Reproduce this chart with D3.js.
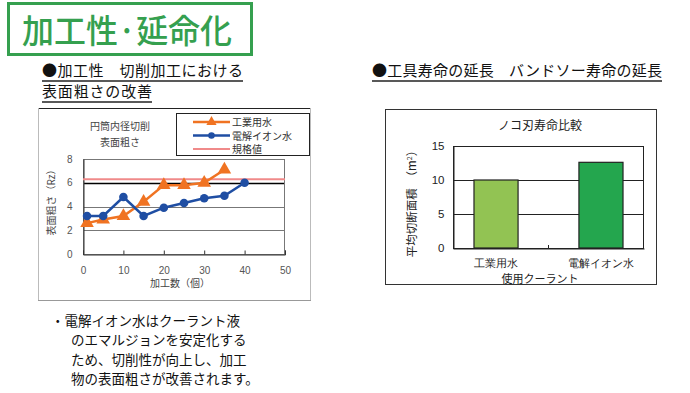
<!DOCTYPE html>
<html><head><meta charset="utf-8">
<script src="https://cdn.jsdelivr.net/npm/d3@7"></script>
<style>
html,body{margin:0;padding:0;background:#fff;}
svg{display:block;font-family:"Noto Sans CJK JP","Noto Sans",sans-serif;}
</style></head>
<body><svg id="c" width="690" height="393"></svg>
<script>
// ---- Data: left chart (surface roughness) ----
const industrialX = [1, 5, 10, 15, 20, 25, 30, 35];
const industrialY = [2.6, 2.9, 3.2, 4.4, 5.8, 5.8, 6.0, 7.1];
const ionX = [1, 5, 10, 15, 20, 25, 30, 35, 40];
const ionY = [3.2, 3.2, 4.8, 3.2, 3.9, 4.3, 4.7, 4.9, 6.0];
const specValue = 6.3;
const leftXTicks = [0, 10, 20, 30, 40, 50];
const leftYTicks = [0, 2, 4, 6, 8];
const leftLegend = ["工業用水", "電解イオン水", "規格値"];
// ---- Data: right chart (saw blade life) ----
const coolants = ["工業用水", "電解イオン水"];
const cutArea = [10, 12.6];
const rightYTicks = [0, 5, 10, 15];
// ---- Texts ----
const bodyLines = ["・電解イオン水はクーラント液", "のエマルジョンを安定化する", "ため、切削性が向上し、加工", "物の表面粗さが改善されます。"];

const svg = d3.select("#c");
const green = "#35a04f";

// Title box
svg.append("rect").attr("x", 8.5).attr("y", 3.5).attr("width", 243).attr("height", 51)
  .attr("fill", "none").attr("stroke", green).attr("stroke-width", 3);
svg.append("text").attr("x", 22).attr("y", 43).attr("fill", green)
  .attr("font-size", 33).attr("font-weight", 500)
  .attr("textLength", 210).attr("lengthAdjust", "spacingAndGlyphs").text("加工性·延命化");

// Section headers
function header(x, y, t, w) {
  svg.append("text").attr("x", x).attr("y", y).attr("font-size", 15).attr("fill", "#111")
    .attr("textLength", w).attr("lengthAdjust", "spacing").text(t);
  svg.append("line").attr("x1", x).attr("x2", x + w).attr("y1", y + 5).attr("y2", y + 5)
    .attr("stroke", "#222").attr("stroke-width", 1.5);
}
header(42, 76, "●加工性　切削加工における", 201);
header(42, 97, "表面粗さの改善", 110);
header(372, 76, "●工具寿命の延長　バンドソー寿命の延長", 290);

// ---- Left chart ----
const L = svg.append("g");
L.append("line").attr("x1", 38).attr("x2", 311).attr("y1", 108.5).attr("y2", 108.5).attr("stroke", "#222");
L.append("line").attr("x1", 38.5).attr("x2", 38.5).attr("y1", 108).attr("y2", 300).attr("stroke", "#bbb");
L.append("line").attr("x1", 310.5).attr("x2", 310.5).attr("y1", 108).attr("y2", 300).attr("stroke", "#bbb");
L.append("line").attr("x1", 38).attr("x2", 311).attr("y1", 300.5).attr("y2", 300.5).attr("stroke", "#999");

const xL = d3.scaleLinear().domain([0, 50]).range([83, 285]);
const yL = d3.scaleLinear().domain([0, 8]).range([254, 159]);
const gray = "#555";

// grid
L.selectAll(".g").data([2, 4]).join("line").attr("x1", 83).attr("x2", 285)
  .attr("y1", d => Math.round(yL(d)) + 0.5).attr("y2", d => Math.round(yL(d)) + 0.5).attr("stroke", "#777");
L.append("line").attr("x1", 83).attr("x2", 285).attr("y1", Math.round(yL(6)) + 0.5).attr("y2", Math.round(yL(6)) + 0.5).attr("stroke", "#000").attr("stroke-width", 1.3);
L.append("rect").attr("x", 83.5).attr("y", Math.round(yL(8)) + 0.5).attr("width", 201).attr("height", Math.round(yL(0)) - Math.round(yL(8)))
  .attr("fill", "none").attr("stroke", "#777");
// axes
const xAxisL = L.append("g").attr("transform", `translate(0,${Math.round(yL(0)) + 0.5})`)
  .call(d3.axisBottom(xL).tickValues(leftXTicks).tickSize(-4).tickPadding(12));
xAxisL.select(".domain").attr("stroke", "#333");
xAxisL.selectAll(".tick line").attr("stroke", "#333");
xAxisL.selectAll("text").attr("font-size", 10).attr("fill", gray).attr("font-family", "Liberation Sans, sans-serif");
const yAxisL = L.append("g").attr("transform", `translate(83.5,0)`)
  .call(d3.axisLeft(yL).tickValues(leftYTicks).tickSize(0).tickPadding(11));
yAxisL.select(".domain").attr("stroke", "#333");
yAxisL.selectAll("text").attr("font-size", 10).attr("fill", gray).attr("font-family", "Liberation Sans, sans-serif");

L.append("text").attr("x", 180).attr("y", 287).attr("text-anchor", "middle").attr("font-size", 10).attr("fill", "#444").text("加工数（個）");
L.append("text").attr("transform", "translate(55,200) rotate(-90)").attr("text-anchor", "middle").attr("font-size", 10).attr("fill", "#444").text("表面粗さ（Rz）");
L.append("text").attr("x", 120).attr("y", 130).attr("text-anchor", "middle").attr("font-size", 10).attr("fill", "#444").text("円筒内径切削");
L.append("text").attr("x", 120).attr("y", 146).attr("text-anchor", "middle").attr("font-size", 10).attr("fill", "#444").text("表面粗さ");

// spec line
L.append("line").attr("x1", 83).attr("x2", 285).attr("y1", yL(specValue)).attr("y2", yL(specValue)).attr("stroke", "#f08a8a").attr("stroke-width", 2);

const orange = "#f07322", blue = "#1f4ea3";
const lineGen = d3.line().x(d => xL(d[0])).y(d => yL(d[1]));
const indData = industrialX.map((x, i) => [x, industrialY[i]]);
const ionData = ionX.map((x, i) => [x, ionY[i]]);
L.append("path").attr("d", lineGen(indData)).attr("fill", "none").attr("stroke", orange).attr("stroke-width", 2.5);
L.selectAll(".tri").data(indData).join("path")
  .attr("transform", d => `translate(${xL(d[0])},${yL(d[1])})`)
  .attr("d", d3.symbol(d3.symbolTriangle, 80)).attr("fill", orange);
L.append("path").attr("d", lineGen(ionData)).attr("fill", "none").attr("stroke", blue).attr("stroke-width", 2.5);
L.selectAll(".dot").data(ionData).join("circle")
  .attr("cx", d => xL(d[0])).attr("cy", d => yL(d[1])).attr("r", 4.3).attr("fill", blue);

// legend
L.append("rect").attr("x", 176.5).attr("y", 113.5).attr("width", 133).attr("height", 42).attr("fill", "#fff").attr("stroke", "#222");
const legY = [122, 135.5, 149];
L.append("line").attr("x1", 193).attr("x2", 230).attr("y1", legY[0]).attr("y2", legY[0]).attr("stroke", orange).attr("stroke-width", 2.5);
L.append("path").attr("transform", `translate(211.5,${legY[0]})`).attr("d", d3.symbol(d3.symbolTriangle, 45)).attr("fill", orange);
L.append("line").attr("x1", 193).attr("x2", 230).attr("y1", legY[1]).attr("y2", legY[1]).attr("stroke", blue).attr("stroke-width", 2.5);
L.append("circle").attr("cx", 211.5).attr("cy", legY[1]).attr("r", 3.3).attr("fill", blue);
L.append("line").attr("x1", 193).attr("x2", 230).attr("y1", legY[2]).attr("y2", legY[2]).attr("stroke", "#f08a8a").attr("stroke-width", 2);
leftLegend.forEach((t, i) => {
  L.append("text").attr("x", 232).attr("y", legY[i] + 4).attr("font-size", 10).attr("fill", "#333").text(t);
});

// ---- Right chart ----
const R = svg.append("g");
R.append("rect").attr("x", 385.5).attr("y", 109.5).attr("width", 271).attr("height", 175).attr("fill", "#fff").attr("stroke", "#333");
R.append("text").attr("x", 540).attr("y", 130).attr("text-anchor", "middle").attr("font-size", 12).attr("fill", "#222").text("ノコ刃寿命比較");

const xR = d3.scaleBand().domain(coolants).range([453, 644]).paddingInner(0.58).paddingOuter(0.2);
const yR = d3.scaleLinear().domain([0, 15]).range([248, 146]);
R.selectAll(".rg").data([5, 10]).join("line").attr("x1", 453).attr("x2", 644)
  .attr("y1", d => Math.round(yR(d)) + 0.5).attr("y2", d => Math.round(yR(d)) + 0.5).attr("stroke", "#222");
R.append("rect").attr("x", 453.5).attr("y", Math.round(yR(15)) + 0.5).attr("width", 190).attr("height", Math.round(yR(0)) - Math.round(yR(15)))
  .attr("fill", "none").attr("stroke", "#222");
const barColors = ["#92c353", "#24a64e"];
R.selectAll(".bar").data(coolants).join("rect")
  .attr("x", d => xR(d)).attr("width", xR.bandwidth())
  .attr("y", (d, i) => yR(cutArea[i])).attr("height", (d, i) => yR(0) - yR(cutArea[i]))
  .attr("fill", (d, i) => barColors[i]).attr("stroke", "#222").attr("stroke-width", 1.2);
const yAxisR = R.append("g").attr("transform", "translate(453.5,0)")
  .call(d3.axisLeft(yR).tickValues(rightYTicks).tickSize(0).tickPadding(9));
yAxisR.select(".domain").attr("stroke", "#222");
yAxisR.selectAll("text").attr("font-size", 11.5).attr("fill", "#222").attr("font-family", "Liberation Sans, sans-serif");
const xAxisR = R.append("g").attr("transform", `translate(0,${Math.round(yR(0)) + 0.5})`)
  .call(d3.axisBottom(xR).tickSize(0).tickPadding(11));
xAxisR.select(".domain").attr("stroke", "#222");
xAxisR.selectAll("text").attr("font-size", 11).attr("fill", "#222");
R.append("line").attr("x1", 548.5).attr("x2", 548.5).attr("y1", yR(0)).attr("y2", yR(0) - 3).attr("stroke", "#222");
R.append("text").attr("x", 540).attr("y", 283).attr("text-anchor", "middle").attr("font-size", 11).attr("fill", "#222").text("使用クーラント");
const yl = R.append("text").attr("transform", "translate(416,201) rotate(-90)").attr("text-anchor", "middle").attr("font-size", 11.5).attr("fill", "#222");
yl.append("tspan").text("平均切断面積　（m");
yl.append("tspan").attr("font-size", 7).attr("dy", -4).text("2");
yl.append("tspan").attr("dy", 4).text("）");

// ---- Body text ----
bodyLines.forEach((t, i) => {
  svg.append("text").attr("x", i === 0 ? 51 : 71).attr("y", 326 + i * 19.3)
    .attr("font-size", 13.5).attr("fill", "#111").text(t);
});
</script></body></html>
